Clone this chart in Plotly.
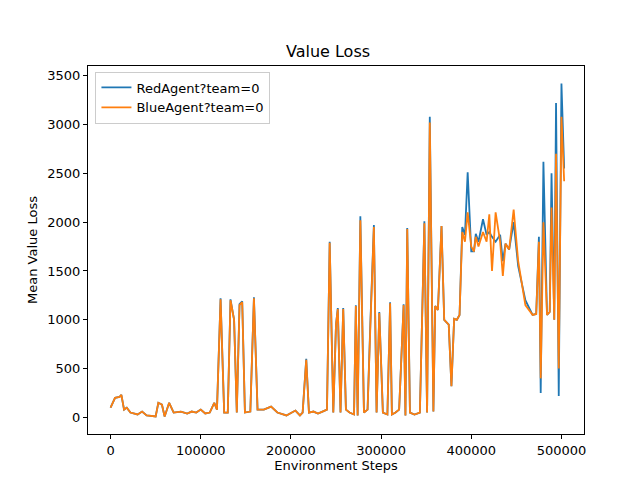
import plotly.graph_objects as go

steps = [0, 5000, 10000, 12000, 15000, 18000, 22000, 30000, 35000, 40000, 50000, 53000, 57000, 60000,
         65000, 70000, 78000, 85000, 90000, 95000, 100000, 105000, 110000, 115000, 118000, 122000,
         126000, 130000, 133000, 137000, 140000, 143000, 146000, 149000, 155000, 159000, 163000,
         170000, 178000, 185000, 195000, 205000, 210000, 213000, 217000, 220000, 225000, 230000,
         235000, 240000, 243000, 247000, 250000, 252000, 255000, 258000, 261000, 265000, 270000,
         272000, 274000, 277000, 281000, 285000, 288000, 292000, 295000, 298000, 302000, 307000,
         310000, 312000, 316000, 320000, 325000, 327000, 329000, 332000, 337000, 343000, 348000,
         351000, 354000, 358000, 360000, 363000, 367000, 370000, 375000, 378000, 381000, 384000,
         387000, 390000, 393000, 396000, 400000, 403000, 405000, 408000, 413000, 417000, 420000,
         423000, 427000, 432000, 435000, 438000, 442000, 447000, 452000, 460000, 468000, 472000,
         475000, 477000, 480000, 484000, 487000, 489000, 492000, 494000, 497000, 500000, 503000]

red = [100, 200, 210, 230, 80, 100, 50, 30, 60, 20, 10, 150, 130, 10,
       150, 50, 60, 40, 60, 50, 80, 40, 50, 150, 80, 1220,
       50, 50, 1210, 1000, 50, 1160, 1190, 50, 60, 1230, 80,
       80, 110, 50, 20, 70, 20, 50, 600, 50, 60, 40,
       60, 80, 1800, 50, 950, 1120, 50, 1120, 80, 50, 30,
       1150, 20, 2060, 50, 80, 940, 1970, 50, 1080, 50, 30,
       1180, 30, 50, 80, 1160, 20, 1940, 50, 30, 50, 2010,
       50, 3080, 60, 1140, 1100, 1960, 1000, 950, 320, 1010, 1000,
       1050, 1950, 1870, 2510, 1700, 1700, 1880, 1800, 2030, 1870, 1900,
       1850, 1800, 1870, 1600, 1780, 1720, 2000, 1550, 1200, 1050, 1060,
       1850, 250, 2620, 1050, 1080, 2500, 1000, 3220, 220, 3420, 2550]

blue = [100, 200, 210, 230, 80, 100, 50, 30, 60, 20, 10, 150, 130, 10,
        150, 50, 60, 40, 60, 50, 80, 40, 50, 150, 80, 1210,
        50, 50, 1200, 1000, 50, 1150, 1180, 50, 60, 1220, 80,
        80, 110, 50, 20, 70, 20, 50, 590, 50, 60, 40,
        60, 80, 1790, 50, 950, 1110, 50, 1110, 80, 50, 30,
        1140, 20, 2020, 50, 80, 900, 1950, 50, 1070, 50, 30,
        1170, 30, 50, 80, 1150, 20, 1930, 50, 30, 50, 1990,
        50, 3020, 60, 1140, 1100, 1960, 1000, 950, 320, 1010, 1000,
        1050, 1900, 1800, 2100, 1750, 1700, 1850, 1750, 1900, 1800, 2080,
        1500, 2100, 1800, 1450, 1780, 1720, 2130, 1600, 1150, 1050, 1060,
        1800, 400, 2000, 1050, 1080, 2150, 1000, 2700, 500, 3080, 2420]

fig = go.Figure()
fig.add_trace(go.Scatter(x=steps, y=red, mode="lines", name="RedAgent?team=0",
                         line=dict(color="#1f77b4", width=1.8)))
fig.add_trace(go.Scatter(x=steps, y=blue, mode="lines", name="BlueAgent?team=0",
                         line=dict(color="#ff7f0e", width=1.8)))

axis = dict(showgrid=False, zeroline=False, showline=True, mirror=True, linecolor="black",
            ticks="outside", ticklen=4, tickcolor="black", automargin=False,
            tickformat="d", tickfont=dict(size=13, color="black"))
fig.update_layout(
    width=640, height=480, template="none",
    font=dict(family="DejaVu Sans", color="black"),
    title=dict(text="Value Loss", x=0.5, xanchor="center", y=0.91, yanchor="middle",
               font=dict(size=16)),
    margin=dict(l=80, r=64, t=58, b=54),
    plot_bgcolor="white", paper_bgcolor="white",
    xaxis=dict(axis, range=[-25000, 525000], tickvals=[0, 100000, 200000, 300000, 400000, 500000],
               title=dict(text="Environment Steps", font=dict(size=13), standoff=4)),
    yaxis=dict(axis, range=[-170, 3600], tickvals=[0, 500, 1000, 1500, 2000, 2500, 3000, 3500],
               title=dict(text="Mean Value Loss", font=dict(size=13), standoff=6)),
    legend=dict(x=0.015, y=0.985, xanchor="left", yanchor="top", bgcolor="white",
                bordercolor="#cccccc", borderwidth=1, font=dict(size=13)),
)
fig.write_html("out.html")
